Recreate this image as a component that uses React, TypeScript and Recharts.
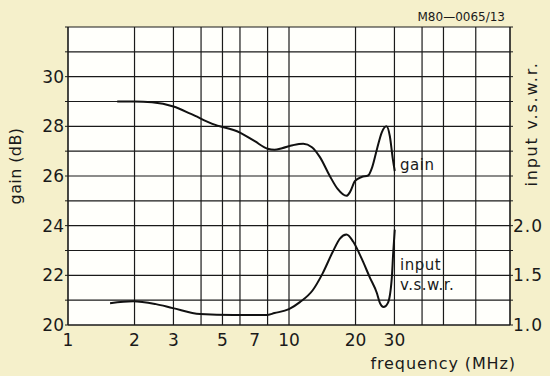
import { ComposedChart, Line, XAxis, YAxis, CartesianGrid } from 'recharts';

// frequency (MHz) / gain (dB)
const gainFreq = [1.67, 2.0, 2.4, 3.0, 3.6, 4.5, 6.0, 7.0, 8.0, 8.6, 9.3, 10.4, 11.6, 12.7, 13.8, 15.3, 16.6, 18.2, 18.9, 19.9, 21.3, 22.8, 23.8, 25.0, 26.3, 27.6, 28.6, 29.5, 30.1];
const gainDb = [29.0, 29.0, 28.97, 28.8, 28.5, 28.1, 27.75, 27.4, 27.1, 27.06, 27.12, 27.24, 27.3, 27.16, 26.76, 26.0, 25.48, 25.2, 25.36, 25.8, 25.96, 26.02, 26.36, 27.08, 27.76, 28.0, 27.6, 26.68, 26.2];

// frequency (MHz) / input v.s.w.r.
const vswrFreq = [1.55, 1.97, 2.5, 2.98, 3.96, 5.6, 7.9, 8.6, 10.0, 11.2, 12.8, 14.2, 15.8, 17.0, 18.2, 19.5, 21.3, 23.2, 25.0, 25.8, 26.8, 28.0, 29.2, 29.6, 30.1];
const vswrVal = [1.22, 1.24, 1.21, 1.17, 1.11, 1.10, 1.10, 1.12, 1.16, 1.23, 1.35, 1.52, 1.74, 1.87, 1.91, 1.84, 1.67, 1.48, 1.32, 1.22, 1.18, 1.22, 1.48, 1.72, 1.96];

const freqTicks = [1, 2, 3, 5, 7, 10, 20, 30];
const freqGrid = [1, 2, 3, 4, 5, 6, 7, 8, 9, 10, 20, 30, 40, 50, 60, 70, 80, 90, 100];
const gainTicks = [20, 21, 22, 23, 24, 25, 26, 27, 28, 29, 30, 31, 32];
const gainLabels = [20, 22, 24, 26, 28, 30];
const vswrTicks = [1, 1.25, 1.5, 1.75, 2, 2.25, 2.5, 2.75, 3, 3.25, 3.5, 3.75, 4];
const vswrLabels = [1, 1.5, 2];

const gainData = gainFreq.map((f, i) => ({ f, gain: gainDb[i] }));
const vswrData = vswrFreq.map((f, i) => ({ f, vswr: vswrVal[i] }));

const FONT = 'DejaVu Sans, sans-serif';
const INK = '#1a1a1a';
const tickStyle = { fill: INK, fontSize: 17, fontFamily: FONT };

export default function App() {
    return (
        <div style={{ position: 'fixed', left: 0, top: 0, width: 550, height: 376, background: '#f5f0cb', fontFamily: FONT }}>
            <ComposedChart width={550} height={376} margin={{ top: 27, right: 0, bottom: 0, left: 0 }}>
                <CartesianGrid
                    xAxisId="f"
                    yAxisId="gain"
                    fill="#fffffb"
                    stroke={INK}
                    strokeWidth={1.2}
                    verticalValues={freqGrid}
                    horizontalValues={gainTicks}
                />
                <XAxis
                    xAxisId="f"
                    dataKey="f"
                    type="number"
                    scale="log"
                    domain={[1, 100]}
                    allowDataOverflow
                    ticks={freqTicks}
                    height={51}
                    stroke={INK}
                    tickLine={false}
                    tick={tickStyle}
                    tickMargin={3}
                />
                <YAxis
                    yAxisId="gain"
                    orientation="left"
                    type="number"
                    domain={[20, 32]}
                    ticks={gainTicks}
                    width={68}
                    stroke={INK}
                    tickSize={3}
                    tickFormatter={(v: number) => (gainLabels.includes(v) ? String(v) : '')}
                    tick={tickStyle}
                    tickMargin={1}
                />
                <YAxis
                    yAxisId="vswr"
                    orientation="right"
                    type="number"
                    domain={[1, 4]}
                    ticks={vswrTicks}
                    width={40}
                    stroke={INK}
                    tickSize={3}
                    tickFormatter={(v: number) => (vswrLabels.includes(v) ? v.toFixed(1) : '')}
                    tick={{ ...tickStyle, letterSpacing: 1 }}
                    tickMargin={0}
                />
                <Line
                    xAxisId="f"
                    yAxisId="gain"
                    data={gainData}
                    dataKey="gain"
                    type="monotone"
                    stroke="#111"
                    strokeWidth={2}
                    dot={false}
                    isAnimationActive={false}
                />
                <Line
                    xAxisId="f"
                    yAxisId="vswr"
                    data={vswrData}
                    dataKey="vswr"
                    type="monotone"
                    stroke="#111"
                    strokeWidth={2}
                    dot={false}
                    isAnimationActive={false}
                />
                <text x={16} y={166} transform="rotate(-90 16 166)" textAnchor="middle" dominantBaseline="middle" fontSize={16} letterSpacing={0.4} fontFamily={FONT} fill={INK}>
                    gain (dB)
                </text>
                <text x={532} y={124} transform="rotate(-90 532 124)" textAnchor="middle" dominantBaseline="middle" fontSize={16} letterSpacing={1.8} fontFamily={FONT} fill={INK}>
                    input v.s.w.r.
                </text>
                <text x={505} y={21} textAnchor="end" fontSize={12} fontFamily={FONT} fill={INK}>
                    M80—0065/13
                </text>
                <text x={516} y={369} textAnchor="end" fontSize={16} letterSpacing={0.9} fontFamily={FONT} fill={INK}>
                    frequency (MHz)
                </text>
                <text x={400} y={170} fontSize={15} letterSpacing={0.5} fontFamily={FONT} fill={INK}>gain</text>
                <text x={400} y={270} fontSize={15} letterSpacing={0.5} fontFamily={FONT} fill={INK}>input</text>
                <text x={400} y={290} fontSize={15} letterSpacing={0.5} fontFamily={FONT} fill={INK}>v.s.w.r.</text>
            </ComposedChart>
        </div>
    );
}
